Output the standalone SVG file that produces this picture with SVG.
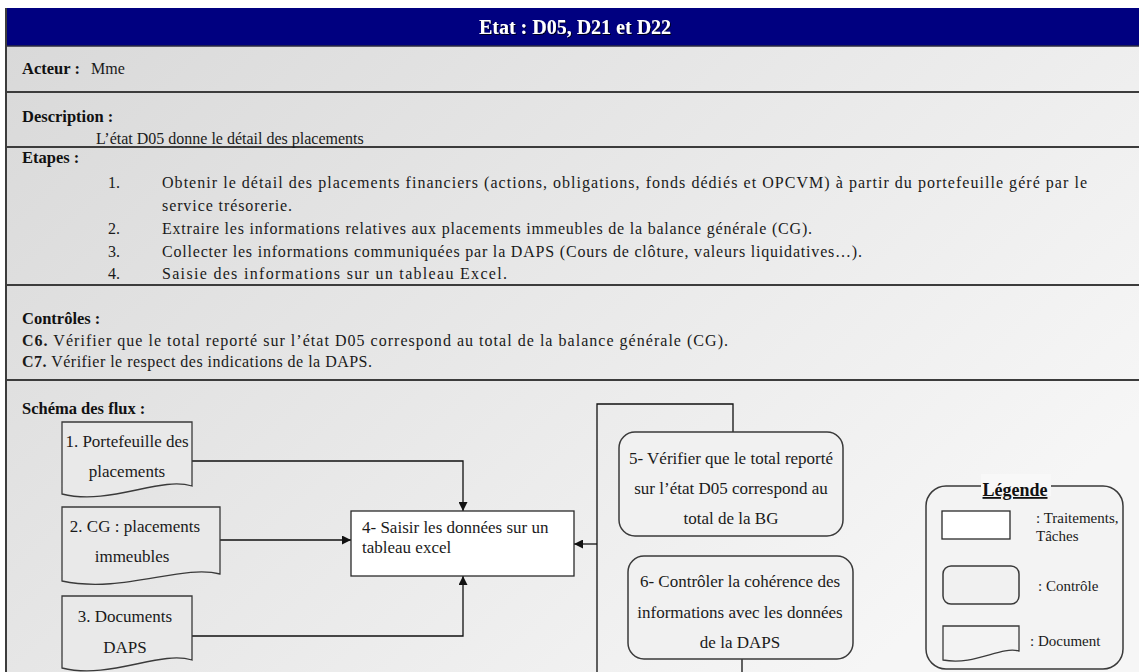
<svg xmlns="http://www.w3.org/2000/svg" width="1139" height="672" viewBox="0 0 1139 672">
  <defs>
    <linearGradient id="bg" x1="0" y1="0" x2="1" y2="0.6">
      <stop offset="0" stop-color="#d9d9d9"/>
      <stop offset="1" stop-color="#f6f6f6"/>
    </linearGradient>
    <filter id="shadow" x="-5%" y="-20%" width="110%" height="140%">
      <feDropShadow dx="1" dy="1" stdDeviation="0.6" flood-color="#000" flood-opacity="0.8"/>
    </filter>
    <marker id="arrow" viewBox="0 0 10 10" refX="10" refY="5" markerWidth="10" markerHeight="9" markerUnits="userSpaceOnUse" orient="auto">
      <path d="M0,0 L10,5 L0,10 Z" fill="#111"/>
    </marker>
    <style>
      .sep { stroke: #3c3c3c; stroke-width: 2; fill: none; }
      .head { font-family: "Liberation Serif", "Times New Roman", serif; font-size: 16.5px; font-weight: bold; fill: #111; }
      .body { font-family: "Liberation Serif", "Times New Roman", serif; font-size: 16px; fill: #1a1a1a; }
      .flow { font-family: "Liberation Serif", "Times New Roman", serif; font-size: 17px; fill: #1a1a1a; }
      .leg { font-family: "Liberation Serif", "Times New Roman", serif; font-size: 15px; fill: #1a1a1a; }
      .doc { fill: #e9e9e9; stroke: #3a3a3a; stroke-width: 1.3; }
      .task { fill: #ffffff; stroke: #2a2a2a; stroke-width: 1.3; }
      .ctrl { fill: #f1f1f1; stroke: #3a3a3a; stroke-width: 1.5; }
      .wire { fill: none; stroke: #111; stroke-width: 1.3; }
      .mid { text-anchor: middle; }
    </style>
  </defs>

  <!-- page and sheet background -->
  <rect x="0" y="0" width="1139" height="672" fill="#ffffff"/>
  <rect x="6" y="46" width="1133" height="626" fill="url(#bg)"/>

  <!-- title band -->
  <g id="title">
    <rect x="6" y="8" width="1133" height="38" fill="#000080"/>
    <line x1="6" y1="46" x2="1139" y2="46" stroke="#2a2a40" stroke-width="1.5"/>
    <text x="575" y="34" class="mid" font-family="Liberation Serif, Times New Roman, serif" font-size="20" font-weight="bold" fill="#ffffff" filter="url(#shadow)">Etat : D05, D21 et D22</text>
  </g>

  <!-- section borders -->
  <g id="sections">
    <line x1="6" y1="8" x2="6" y2="672" class="sep"/>
    <line x1="6" y1="92" x2="1139" y2="92" class="sep"/>
    <line x1="6" y1="147" x2="1139" y2="147" class="sep"/>
    <line x1="6" y1="285" x2="1139" y2="285" class="sep"/>
    <line x1="6" y1="380" x2="1139" y2="380" class="sep"/>
  </g>

  <g id="acteur">
    <text x="22" y="74" class="head">Acteur :</text>
    <text x="91" y="74" class="body">Mme</text>
  </g>

  <g id="description">
    <text x="22" y="122" class="head">Description :</text>
    <text x="96" y="144" class="body">L’état D05 donne le détail des placements</text>
  </g>

  <g id="etapes">
    <text x="22" y="163" class="head">Etapes :</text>
    <text x="108" y="188" class="body">1.</text>
    <text x="162" y="188" class="body" textLength="925" lengthAdjust="spacing">Obtenir le détail des placements financiers (actions, obligations, fonds dédiés et OPCVM) à partir du portefeuille géré par le</text>
    <text x="162" y="211" class="body" textLength="130" lengthAdjust="spacing">service trésorerie.</text>
    <text x="108" y="234" class="body">2.</text>
    <text x="162" y="234" class="body" textLength="650" lengthAdjust="spacing">Extraire les informations relatives aux placements immeubles de la balance générale (CG).</text>
    <text x="108" y="257" class="body">3.</text>
    <text x="162" y="257" class="body" textLength="700" lengthAdjust="spacing">Collecter les informations communiquées par la DAPS (Cours de clôture, valeurs liquidatives…).</text>
    <text x="108" y="279" class="body">4.</text>
    <text x="162" y="279" class="body" textLength="345" lengthAdjust="spacing">Saisie des informations sur un tableau Excel.</text>
  </g>

  <g id="controles">
    <text x="22" y="324" class="head">Contrôles :</text>
    <text x="22" y="346" class="body" textLength="706" lengthAdjust="spacing"><tspan font-weight="bold">C6.</tspan> Vérifier que le total reporté sur l’état D05 correspond au total de la balance générale (CG).</text>
    <text x="22" y="367" class="body" textLength="350" lengthAdjust="spacing"><tspan font-weight="bold">C7.</tspan> Vérifier le respect des indications de la DAPS.</text>
  </g>

  <text x="22" y="414" class="head" font-size="17.5">Schéma des flux :</text>

  <!-- connectors -->
  <g id="connectors">
    <polyline points="192,461 463,461 463,511" class="wire" marker-end="url(#arrow)"/>
    <line x1="220" y1="540" x2="351" y2="540" class="wire" marker-end="url(#arrow)"/>
    <polyline points="192,636 463,636 463,576" class="wire" marker-end="url(#arrow)"/>
    <polyline points="733,432 733,404 597,404 597,672" class="wire"/>
    <line x1="597" y1="544" x2="574" y2="544" class="wire" marker-end="url(#arrow)"/>
    <line x1="742" y1="659" x2="742" y2="672" class="wire"/>
  </g>

  <!-- documents -->
  <g id="doc1">
    <path d="M62,422 H192 V486 C160,476 110,506 62,494 Z" class="doc"/>
    <text x="127" y="447" class="flow mid">1. Portefeuille des</text>
    <text x="127" y="477" class="flow mid">placements</text>
  </g>
  <g id="doc2">
    <path d="M62,507 H220 V574 C182,564 122,594 62,581 Z" class="doc"/>
    <text x="135" y="532" class="flow mid">2. CG : placements</text>
    <text x="132" y="562" class="flow mid">immeubles</text>
  </g>
  <g id="doc3">
    <path d="M62,596 H192 V660 C160,650 110,680 62,668 Z" class="doc"/>
    <text x="125" y="622" class="flow mid">3. Documents</text>
    <text x="125" y="653" class="flow mid">DAPS</text>
  </g>

  <!-- task -->
  <g id="task4">
    <rect x="351" y="511" width="223" height="65" class="task"/>
    <text x="362" y="533" class="flow">4- Saisir les données sur un</text>
    <text x="362" y="553" class="flow">tableau excel</text>
  </g>

  <!-- controls -->
  <g id="ctrl5">
    <rect x="619" y="432" width="224" height="104" rx="16" class="ctrl"/>
    <text x="731" y="464" class="flow mid">5- Vérifier que le total reporté</text>
    <text x="731" y="494" class="flow mid">sur l’état D05 correspond au</text>
    <text x="731" y="524" class="flow mid">total de la BG</text>
  </g>
  <g id="ctrl6">
    <rect x="628" y="556" width="225" height="103" rx="16" class="ctrl"/>
    <text x="740" y="587" class="flow mid">6- Contrôler la cohérence des</text>
    <text x="740" y="618" class="flow mid">informations avec les données</text>
    <text x="740" y="648" class="flow mid">de la DAPS</text>
  </g>

  <!-- legend -->
  <g id="legend">
    <rect x="926" y="486" width="197" height="183" rx="20" fill="#f3f3f3" stroke="#3a3a3a" stroke-width="1.5"/>
    <rect x="981" y="474" width="70" height="22" fill="#f8f8f8"/>
    <text x="1015" y="496" class="mid" font-family="Liberation Serif, Times New Roman, serif" font-size="18" font-weight="bold" fill="#111" text-decoration="underline">Légende</text>
    <rect x="942" y="511" width="68" height="28" class="task"/>
    <text x="1036" y="523" class="leg">: Traitements,</text>
    <text x="1036" y="541" class="leg">Tâches</text>
    <rect x="943" y="566" width="76" height="38" rx="8" class="ctrl"/>
    <text x="1038" y="591" class="leg">: Contrôle</text>
    <path d="M943,626 H1019 V651 C1000,646 975,666 943,660 Z" fill="#f3f3f3" stroke="#3a3a3a" stroke-width="1.3"/>
    <text x="1030" y="646" class="leg">: Document</text>
  </g>
</svg>
